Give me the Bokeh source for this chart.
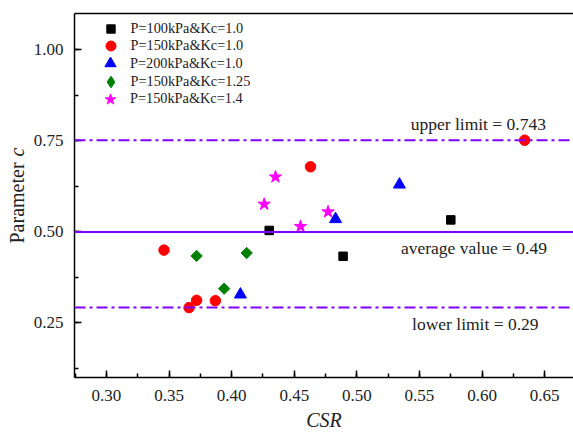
import math
from bokeh.plotting import figure
from bokeh.layouts import row
from bokeh.models import (Range1d, SingleIntervalTicker, NumeralTickFormatter, Span, Label,
                          Legend, LegendItem, LinearAxis, FixedTicker)
from bokeh.embed import file_html
from bokeh.resources import INLINE

# ---- data ----
csr_100_10 = [0.430, 0.489, 0.575]
c_100_10 = [0.504, 0.433, 0.533]

csr_150_10 = [0.346, 0.366, 0.372, 0.387, 0.463, 0.634]
c_150_10 = [0.450, 0.292, 0.312, 0.311, 0.679, 0.752]

csr_200_10 = [0.407, 0.483, 0.534]
c_200_10 = [0.328, 0.535, 0.630]

csr_150_125 = [0.372, 0.394, 0.412]
c_150_125 = [0.434, 0.344, 0.442]

csr_150_14 = [0.426, 0.435, 0.455, 0.477]
c_150_14 = [0.576, 0.651, 0.515, 0.555]

series_names = ["P=100kPa&Kc=1.0", "P=150kPa&Kc=1.0", "P=200kPa&Kc=1.0",
                "P=150kPa&Kc=1.25", "P=150kPa&Kc=1.4"]

line_values = [0.752, 0.500, 0.292]
line_labels = ["upper limit = 0.743", "average value = 0.49", "lower limit = 0.29"]

FONT = "Liberation Serif"
PURPLE = "#8000FF"
TXT = "#222222"

LABEL_W = 30
FRAME_H = 366.6

# narrow side panel holding the y-axis title ("Parameter" + italic "c");
# its frame is aligned with the main plot's frame by the row layout
side = figure(width=LABEL_W, height=433, output_backend="svg", toolbar_location=None,
              x_range=Range1d(0, 1), y_range=Range1d(0, 1),
              min_border_left=0, min_border_right=0, min_border_top=13, min_border_bottom=54)
side.axis.visible = False
side.grid.visible = False
side.outline_line_color = None
side.add_layout(Label(x=16, y=134, x_units="screen", y_units="screen", text="Parameter",
                      angle=math.pi / 2, text_font=FONT, text_font_size="20px",
                      text_color=TXT, text_align="left", text_baseline="middle"))
side.add_layout(Label(x=16, y=221, x_units="screen", y_units="screen", text="c",
                      angle=math.pi / 2, text_font=FONT, text_font_size="20px",
                      text_color=TXT, text_font_style="italic",
                      text_align="left", text_baseline="middle"))

p = figure(width=573 - LABEL_W, height=433, output_backend="svg", toolbar_location=None,
           x_range=Range1d(0.2745, 0.673), y_range=Range1d(0.1, 1.1),
           min_border_left=72 - LABEL_W, min_border_right=0, min_border_top=13,
           min_border_bottom=54)
p.outline_line_color = None
p.grid.visible = False
p.background_fill_color = "white"

for ax in (p.xaxis[0], p.yaxis[0]):
    ax.axis_line_width = 1.5
    ax.major_tick_in = 7
    ax.major_tick_out = 0
    ax.minor_tick_in = 4
    ax.minor_tick_out = 0
    ax.major_tick_line_width = 1.5
    ax.minor_tick_line_width = 1.5
    ax.major_label_text_font = FONT
    ax.major_label_text_font_size = "17px"
    ax.major_label_text_color = TXT

p.xaxis.ticker = SingleIntervalTicker(interval=0.05, num_minor_ticks=2)
p.yaxis.ticker = SingleIntervalTicker(interval=0.25, num_minor_ticks=2)
p.xaxis.formatter = NumeralTickFormatter(format="0.00")
p.yaxis.formatter = NumeralTickFormatter(format="0.00")
p.xaxis.major_label_standoff = 12
p.yaxis.major_label_standoff = 11

p.xaxis.axis_label = "CSR"
p.xaxis.axis_label_text_font = FONT
p.xaxis.axis_label_text_font_style = "italic"
p.xaxis.axis_label_text_font_size = "20px"
p.xaxis.axis_label_text_color = TXT
p.xaxis.axis_label_standoff = 5

# top border line
top = LinearAxis(ticker=FixedTicker(ticks=[]), major_label_text_font_size="0px",
                 major_tick_line_color=None, minor_tick_line_color=None, axis_line_width=1.5)
p.add_layout(top, "above")

# reference lines
dashes = ["11 4 3 4", None, "11 4 3 4"]
for v, d in zip(line_values, dashes):
    if d:
        p.add_layout(Span(location=v, dimension="width", line_color=PURPLE, line_width=2, line_dash=d))
    else:
        p.add_layout(Span(location=v, dimension="width", line_color=PURPLE, line_width=2))

label_pos = [(0.597, 0.797), (0.5935, 0.4544), (0.5946, 0.2464)]
for (lx, ly), t in zip(label_pos, line_labels):
    p.add_layout(Label(x=lx, y=ly, text=t, text_font=FONT, text_font_size="17.5px",
                       text_align="center", text_baseline="middle", text_color=TXT))

r1 = p.scatter(csr_100_10, c_100_10, marker="square", size=8.5, color="black")
r2 = p.scatter(csr_150_10, c_150_10, marker="circle", size=10.5, color="red")
r3 = p.scatter(csr_200_10, c_200_10, marker="triangle", size=12, color="blue")
# diamond-shaped key glyph (fully covered by the rotated squares drawn on top)
r4_key = p.scatter(csr_150_125, c_150_125, marker="diamond", size=9, color="green")
r4 = p.scatter(csr_150_125, c_150_125, marker="square", size=8, angle=math.pi / 4, color="green")
r5 = p.scatter(csr_150_14, c_150_14, marker="star", size=13, color="magenta")

# one single-row legend per series so each key marker can have its own size
legend_renderers = [r1, r2, r3, r4_key, r5]
key_boxes = [21, 25, 28, 29, 28]
for i, (name, rr, h) in enumerate(zip(series_names, legend_renderers, key_boxes)):
    center = 15.6 + 17.7 * i
    y_loc = FRAME_H - center - h / 2 - 2
    x_loc = 36 - h / 2
    lg = Legend(items=[LegendItem(label=name, renderers=[rr])],
                location=(x_loc, y_loc), margin=0, padding=0, spacing=0,
                glyph_width=h, glyph_height=h, label_height=15,
                label_standoff=int(round(20 - h / 2)),
                label_text_font=FONT, label_text_font_size="14.3px",
                label_text_color=TXT,
                border_line_color=None, background_fill_alpha=0)
    p.add_layout(lg)

layout = row(side, p, spacing=0)
open("out.html", "w").write(file_html(layout, INLINE))
